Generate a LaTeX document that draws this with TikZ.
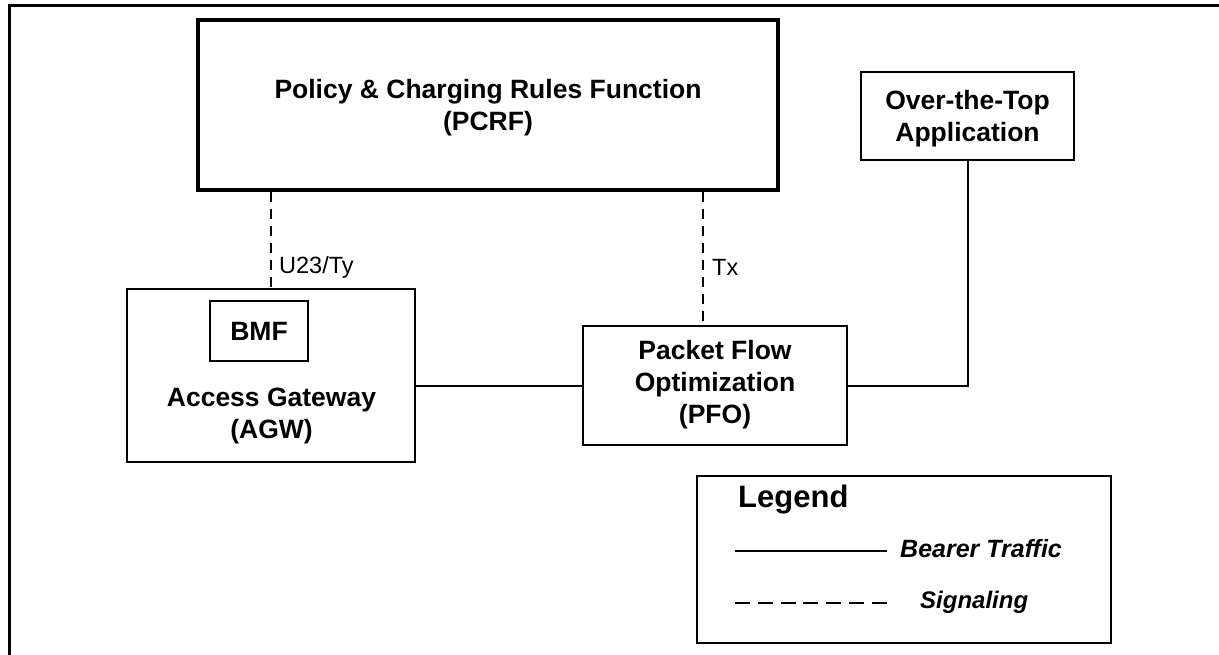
\documentclass[tikz,border=0pt]{standalone}
\usepackage{fontspec}
\setmainfont{Liberation Sans}
\begin{document}
\begin{tikzpicture}[x=1pt,y=-1pt,
  box/.style={draw=black,line width=2pt,rectangle,inner sep=0pt,
    minimum width=#1},
  lbl/.style={font=\bfseries\fontsize{26.5}{32}\selectfont,align=center,inner sep=0pt},
  iface/.style={font=\fontsize{23.5}{28}\selectfont,inner sep=0pt,anchor=west},
  bearer/.style={line width=2pt},
  signal/.style={line width=2pt,dash pattern=on 10pt off 7pt},
  legsignal/.style={line width=2pt,dash pattern=on 15pt off 7.8pt}]
\useasboundingbox (0,0) rectangle (1219,655);
% page frame (top and left edges)
\draw[line width=3pt] (9,655) -- (9,6) -- (1219,6);

% functional entities
\node[box=580pt,minimum height=170pt,line width=3.5pt] (pcrf) at (488,105) {};
\node[lbl] (pcrftxt) at (488,108) {Policy \& Charging Rules Function\\(PCRF)};

\node[box=213pt,minimum height=88pt,line width=2.5pt] (ott) at (967.5,116) {};
\node[lbl] (otttxt) at (967.5,118.5) {Over-the-Top\\Application};

\node[box=288pt,minimum height=173pt] (agw) at (271,375.5) {};
\node[box=98pt,minimum height=60pt,line width=2.5pt,lbl] (bmf) at (259,331) {BMF};
\node[lbl] (agwtxt) at (271.5,416) {Access Gateway\\(AGW)};

\node[box=264pt,minimum height=119pt] (pfo) at (715,385.5) {};
\node[lbl] (pfotxt) at (715,385) {Packet Flow\\Optimization\\(PFO)};

% signaling interfaces
\draw[signal] (agw.north |- pcrf.south) -- (agw.north);
\coordinate (pfotop) at ([xshift=-12pt]pfo.north);
\draw[signal] (pfotop |- pcrf.south) -- (pfotop);
\node[iface] (u23) at (279,267) {U23/Ty};
\node[iface] (tx) at (712,267) {Tx};

% bearer paths
\draw[bearer] (pfo.west) -- (pfo.west -| agw.east);
\draw[bearer] (pfo.east) -| (ott.south);

% legend
\node[box=414pt,minimum height=167pt] (legend) at (904,559.5) {};
\node[font=\bfseries\fontsize{31}{36}\selectfont,inner sep=0pt,anchor=west] (legtitle) at (738,500) {Legend};
\coordinate (b1) at (735,551);
\coordinate (b2) at (887,551);
\draw[bearer] (b1) -- (b2);
\node[font=\bfseries\itshape\fontsize{25}{30}\selectfont,inner sep=0pt,anchor=west] (legb) at (900,549) {Bearer Traffic};
\coordinate (s1) at (735,603);
\coordinate (s2) at (887,603);
\draw[legsignal] (s1) -- (s2);
\node[font=\bfseries\itshape\fontsize{24}{30}\selectfont,inner sep=0pt,anchor=west] (legs) at (920,602) {Signaling};
\end{tikzpicture}
\end{document}
